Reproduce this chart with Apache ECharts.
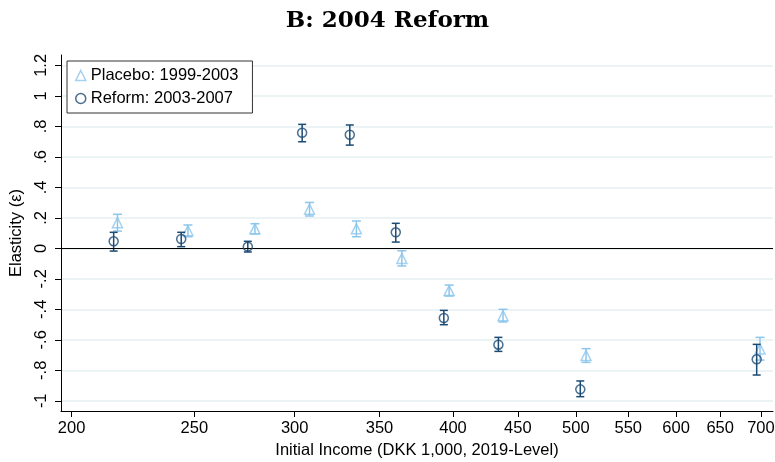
<!DOCTYPE html>
<html>
<head>
<meta charset="utf-8">
<script src="https://cdn.jsdelivr.net/npm/echarts@6/dist/echarts.min.js"></script>
<style>html,body{margin:0;padding:0;background:#fff}#c{width:775px;height:462px}</style>
</head>
<body>
<div id="c"></div>
<script>
// ---- data ----
const placeboIncome = [217.4, 247.1, 279.1, 308.2, 335.6, 364.5, 397.2, 438.1, 509.4, 698.8];
const placeboEst    = [0.168, 0.115, 0.128, 0.257, 0.128, -0.066, -0.277, -0.442, -0.703, -0.66];
const placeboLo     = [0.113, 0.076, 0.094, 0.212, 0.076, -0.116, -0.313, -0.483, -0.748, -0.733];
const placeboHi     = [0.223, 0.153, 0.161, 0.301, 0.179, -0.016, -0.241, -0.400, -0.658, -0.584];

const reformIncome  = [215.9, 244.1, 275.5, 304.1, 331.6, 360.5, 393.4, 434.4, 504.1, 694.6];
const reformEst     = [0.046, 0.061, 0.011, 0.758, 0.745, 0.105, -0.457, -0.632, -0.925, -0.728];
const reformLo      = [-0.018, 0.011, -0.024, 0.699, 0.677, 0.041, -0.501, -0.676, -0.973, -0.831];
const reformHi      = [0.105, 0.105, 0.046, 0.813, 0.809, 0.164, -0.407, -0.584, -0.870, -0.630];

const xTicks = [200, 250, 300, 350, 400, 450, 500, 550, 600, 650, 700];
const yTicks = [-1, -0.8, -0.6, -0.4, -0.2, 0, 0.2, 0.4, 0.6, 0.8, 1, 1.2];

const xRange = [196.2, 715.5];
const yRange = [-1.067, 1.268];

const placeboName = 'Placebo: 1999-2003';
const reformName = 'Reform: 2003-2007';
const lightBlue = '#8cc6ec';
const navy = '#1b4a73';

// x axis is logarithmic: positions on a value axis of ln(income)
const L = v => Math.log(v);
const pts = (xs, ys) => xs.map((x, i) => [L(x), ys[i]]);
const bars = (xs, lo, hi) => xs.map((x, i) => [L(x), lo[i], hi[i]]);

function errRender(color, capHalf) {
  return function (params, api) {
    const x = api.value(0), lo = api.value(1), hi = api.value(2);
    const a = api.coord([x, hi]), b = api.coord([x, lo]);
    const st = { stroke: color, lineWidth: 1.5 };
    return {
      type: 'group',
      children: [
        { type: 'line', shape: { x1: a[0], y1: a[1], x2: b[0], y2: b[1] }, style: st },
        { type: 'line', shape: { x1: a[0] - capHalf, y1: a[1], x2: a[0] + capHalf, y2: a[1] }, style: st },
        { type: 'line', shape: { x1: b[0] - capHalf, y1: b[1], x2: b[0] + capHalf, y2: b[1] }, style: st }
      ]
    };
  };
}

const chart = echarts.init(document.getElementById('c'), null, { renderer: 'canvas' });
const font = 'Liberation Sans, Arial, sans-serif';

chart.setOption({
  animation: false,
  backgroundColor: '#fff',
  title: {
    text: 'B: 2004 Reform',
    left: 'center',
    top: 5,
    textStyle: { fontFamily: 'DejaVu Serif', fontWeight: 'bold', fontSize: 23, color: '#000' }
  },
  legend: {
    orient: 'vertical',
    left: 67,
    top: 61,
    padding: [6, 14, 6, 8],
    itemGap: 6,
    itemWidth: 10,
    itemHeight: 10,
    borderColor: '#333',
    borderWidth: 1,
    backgroundColor: '#fff',
    textStyle: { fontFamily: font, fontSize: 16.5, color: '#000' },
    data: [
      { name: placeboName, icon: 'triangle', itemStyle: { color: 'transparent', borderColor: lightBlue, borderWidth: 1.5 } },
      { name: reformName, icon: 'circle', itemStyle: { color: 'transparent', borderColor: navy, borderWidth: 1.5 } }
    ]
  },
  grid: { left: 61, right: 2, top: 55, bottom: 51, containLabel: false, outerBoundsMode: 'none' },
  xAxis: {
    type: 'value',
    min: L(xRange[0]),
    max: L(xRange[1]),
    name: 'Initial Income (DKK 1,000, 2019-Level)',
    nameLocation: 'middle',
    nameGap: 29,
    nameTextStyle: { fontFamily: font, fontSize: 16.5, color: '#000' },
    axisLine: { show: true, onZero: false, lineStyle: { color: '#000', width: 1 } },
    axisTick: { show: true, length: 6, customValues: xTicks.map(L), lineStyle: { color: '#000' } },
    axisLabel: {
      customValues: xTicks.map(L),
      margin: 9,
      fontFamily: font, fontSize: 16.5, color: '#000',
      formatter: v => String(Math.round(Math.exp(v)))
    },
    splitLine: { show: false }
  },
  yAxis: {
    type: 'value',
    min: yRange[0],
    max: yRange[1],
    name: 'Elasticity (ε)',
    nameLocation: 'middle',
    nameGap: 35,
    nameTextStyle: { fontFamily: font, fontSize: 16.5, color: '#000' },
    axisLine: { show: true, lineStyle: { color: '#000', width: 1 } },
    axisTick: { show: true, length: 6, customValues: yTicks, lineStyle: { color: '#000' } },
    axisLabel: {
      customValues: yTicks,
      rotate: 90,
      margin: 11,
      fontFamily: font, fontSize: 16.5, color: '#000',
      formatter: v => {
        const s = String(Math.round(v * 10) / 10);
        return s.replace(/^(-?)0\./, '$1.');
      }
    },
    splitLine: { show: true, lineStyle: { color: '#e6eff1', width: 1.5 } }
  },
  series: [
    {
      name: placeboName + ' CI',
      type: 'custom',
      renderItem: errRender(lightBlue, 4.5),
      encode: { x: 0, y: [1, 2] },
      data: bars(placeboIncome, placeboLo, placeboHi),
      z: 2,
      silent: true
    },
    {
      name: placeboName,
      type: 'scatter',
      symbol: 'triangle',
      symbolSize: 10,
      itemStyle: { color: 'transparent', borderColor: lightBlue, borderWidth: 1.5 },
      data: pts(placeboIncome, placeboEst),
      z: 3,
      markLine: {
        silent: true,
        symbol: 'none',
        label: { show: false },
        lineStyle: { color: '#000', width: 1, type: 'solid' },
        data: [{ yAxis: 0 }]
      }
    },
    {
      name: reformName + ' CI',
      type: 'custom',
      renderItem: errRender(navy, 4),
      encode: { x: 0, y: [1, 2] },
      data: bars(reformIncome, reformLo, reformHi),
      z: 4,
      silent: true
    },
    {
      name: reformName,
      type: 'scatter',
      symbol: 'circle',
      symbolSize: 9,
      itemStyle: { color: 'transparent', borderColor: navy, borderWidth: 1.5 },
      data: pts(reformIncome, reformEst),
      z: 5
    }
  ]
});
</script>
</body>
</html>
